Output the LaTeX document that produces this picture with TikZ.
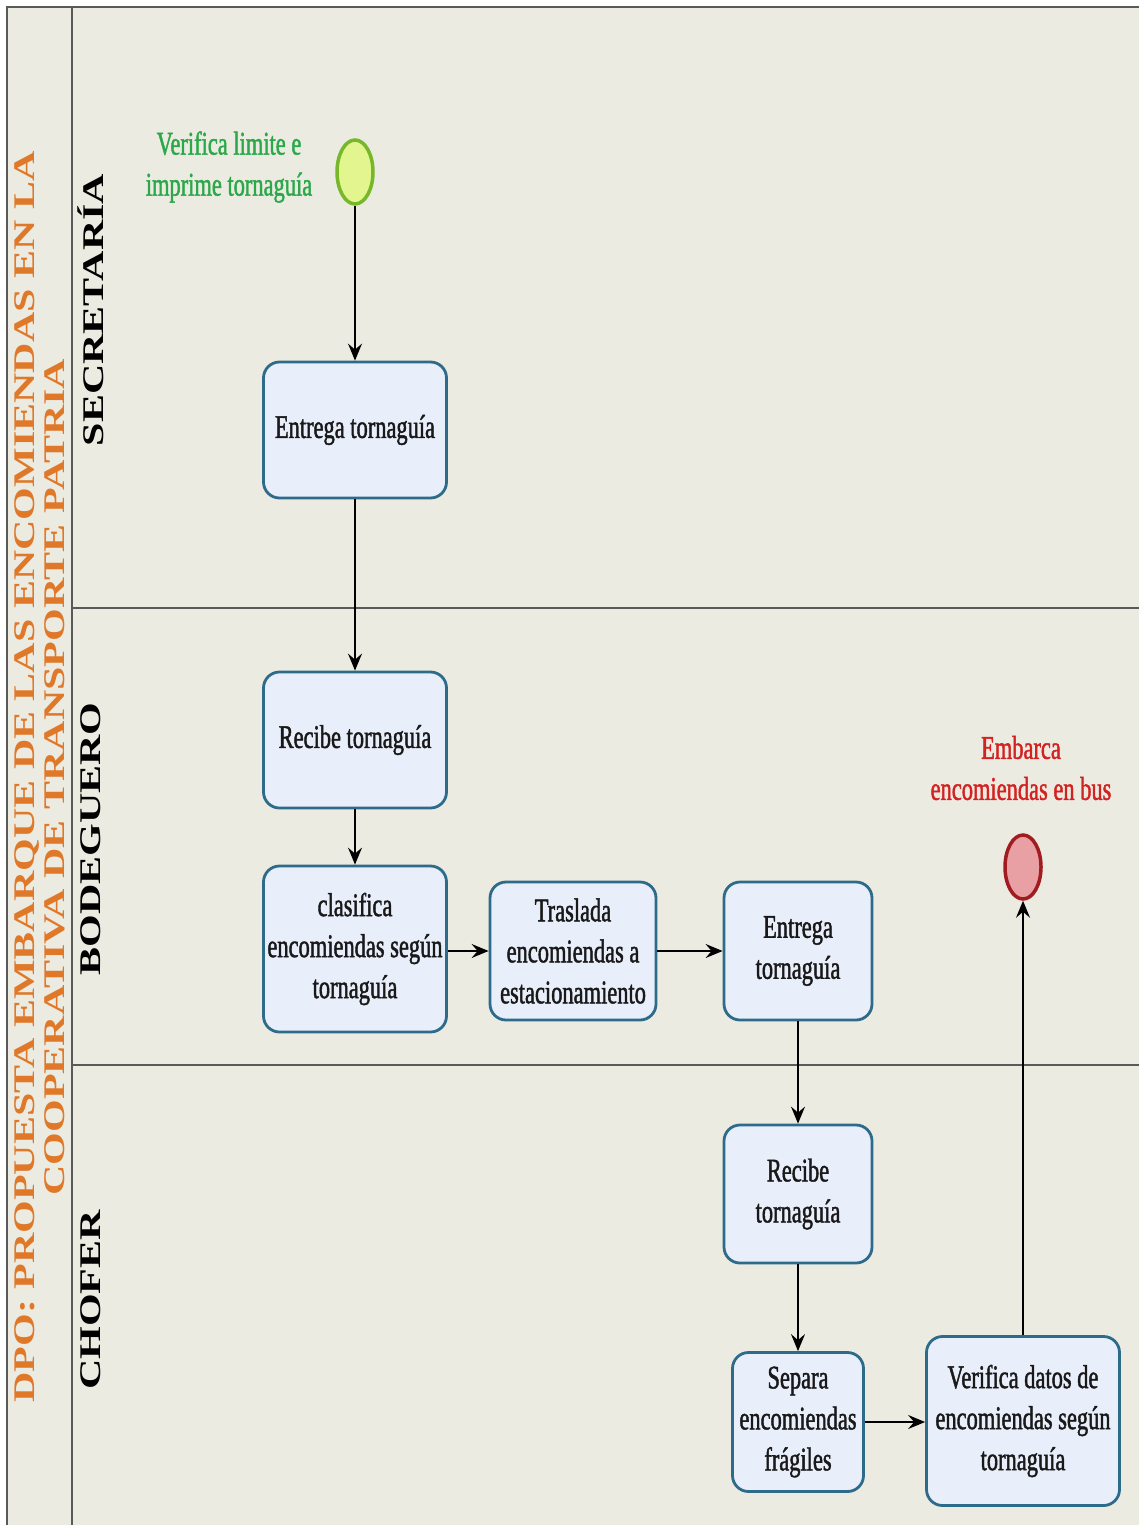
\documentclass[tikz,border=0pt]{standalone}
\usepackage{fontspec}
\setmainfont{Liberation Serif}
\newfontfamily\boxfont[FakeStretch=0.68,FakeBold=1.3]{Liberation Serif}
\newfontfamily\headfont[FakeStretch=1.4]{Liberation Serif}
\usetikzlibrary{arrows.meta,shapes.geometric}

\definecolor{poolbg}{RGB}{236,235,225}
\definecolor{frameline}{RGB}{90,90,90}
\definecolor{boxfill}{RGB}{232,238,250}
\definecolor{boxedge}{RGB}{46,107,138}
\definecolor{startfill}{RGB}{226,245,142}
\definecolor{startedge}{RGB}{118,184,42}
\definecolor{endfill}{RGB}{232,160,164}
\definecolor{endedge}{RGB}{160,28,32}
\definecolor{greentext}{RGB}{43,168,74}
\definecolor{redtext}{RGB}{211,34,34}
\definecolor{titleorange}{RGB}{224,120,42}

\begin{document}
\begin{tikzpicture}[x=1pt,y=-1pt,
  task/.style={draw=boxedge, fill=boxfill, line width=2.8pt, rounded corners=16pt,
    align=center, inner sep=0pt, text=black!90,
    font=\boxfont\fontsize{33}{41}\selectfont},
  flow/.style={line width=1.6pt, -{Stealth[length=17pt,width=14pt,inset=6pt]}},
  evlabel/.style={align=center, font=\boxfont\fontsize{33}{41}\selectfont},
  lanelabel/.style={rotate=90, font=\headfont\bfseries\fontsize{30}{30}\selectfont},
  lanesep/.style={draw=frameline, line width=1.5pt}]

% page and pool background
\useasboundingbox (0,0) rectangle (1139,1525);
\fill[white] (0,0) rectangle (1139,1525);
\fill[poolbg] (7,7) rectangle (1139,1525);
\draw[frameline, line width=2pt] (7,1525) -- (7,7) -- (1139,7);
\draw[frameline, line width=1.5pt] (72,7) -- (72,1525);

% lanes
\coordinate (s1l) at (72,608);  \coordinate (s1r) at (1139,608);
\coordinate (s2l) at (72,1065); \coordinate (s2r) at (1139,1065);
\draw[lanesep] (s1l) -- (s1r);
\draw[lanesep] (s2l) -- (s2r);

% pool title
\node[rotate=90, align=center, text=titleorange,
      font=\headfont\bfseries\fontsize{30}{30}\selectfont] (title) at (40,777)
  {DPO: PROPUESTA EMBARQUE DE LAS ENCOMIENDAS EN LA\\COOPERATIVA DE TRANSPORTE PATRIA};

% lane names
\node[lanelabel] (lsec) at (91,310) {SECRETARÍA};
\node[lanelabel] (lbod) at (91,839) {BODEGUERO};
\node[lanelabel] (lcho) at (91,1300) {CHOFER};

% events
\node[ellipse, draw=startedge, fill=startfill, line width=3.5pt,
      minimum width=36pt, minimum height=64pt, inner sep=0pt] (start) at (355,172) {};
\node[evlabel, text=greentext] (startlbl) at (229,167) {Verifica limite e\\imprime tornaguía};

\node[ellipse, draw=endedge, fill=endfill, line width=3.5pt,
      minimum width=36pt, minimum height=64pt, inner sep=0pt] (finish) at (1023,867) {};
\node[evlabel, text=redtext] (endlbl) at (1021,768) {Embarca\\encomiendas en bus};

% tasks
\node[task, minimum width=183pt, minimum height=136pt] (t1) at (355,430) {Entrega tornaguía};
\node[task, minimum width=183pt, minimum height=136pt] (t2) at (355,740) {Recibe tornaguía};
\node[task, minimum width=183pt, minimum height=166pt] (t3) at (355,949) {clasifica\\encomiendas según\\tornaguía};
\node[task, minimum width=166pt, minimum height=138pt] (t4) at (573,951) {Traslada\\encomiendas a\\estacionamiento};
\node[task, minimum width=148pt, minimum height=138pt] (t5) at (798,951) {Entrega\\tornaguía};
\node[task, minimum width=148pt, minimum height=138pt] (t6) at (798,1194) {Recibe\\tornaguía};
\node[task, minimum width=131pt, minimum height=139pt] (t7) at (798,1422) {Separa\\encomiendas\\frágiles};
\node[task, minimum width=193pt, minimum height=169pt] (t8) at (1023,1421) {Verifica datos de\\encomiendas según\\tornaguía};

% sequence flows
\draw[flow] (start) -- (t1);
\draw[flow] (t1) -- (t2);
\draw[flow] (t2) -- (t3);
\draw[flow] (t3.east |- t4.west) -- (t4.west);
\draw[flow] (t4) -- (t5);
\draw[flow] (t5) -- (t6);
\draw[flow] (t6) -- (t7);
\draw[flow] (t7.east) -- (t8.west |- t7.east);
\draw[flow] (t8) -- (finish);
\end{tikzpicture}
\end{document}
